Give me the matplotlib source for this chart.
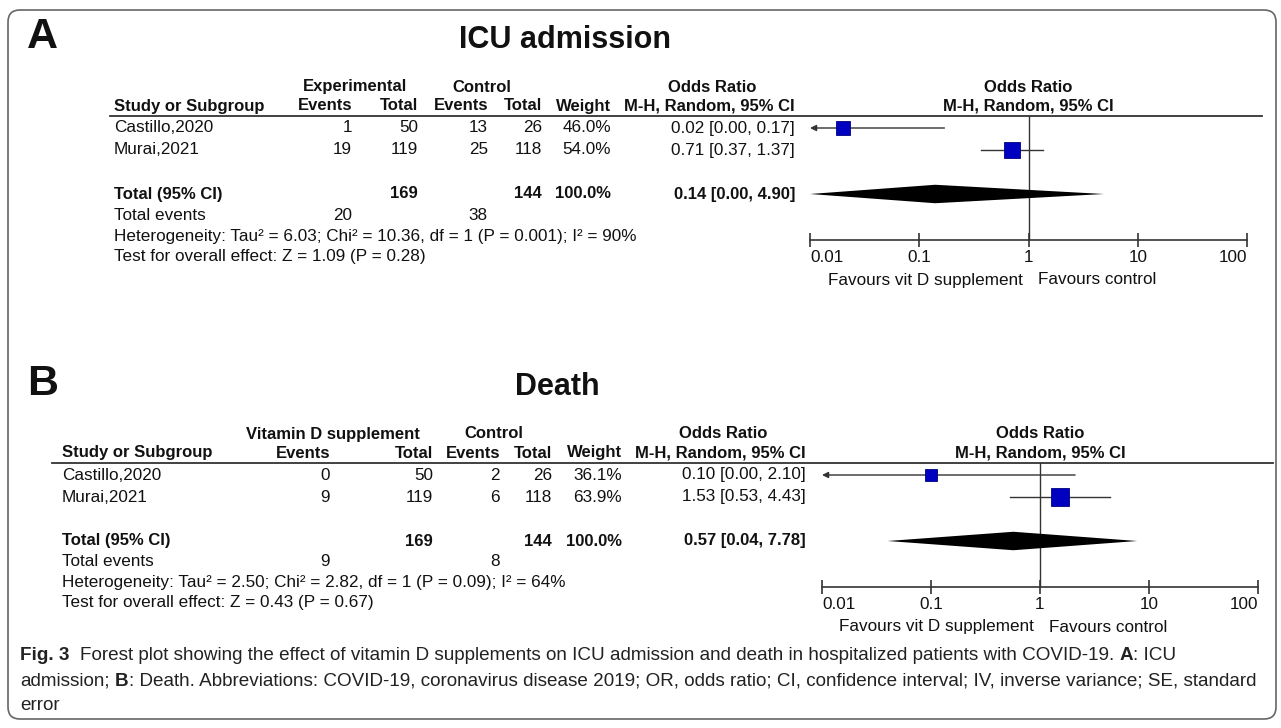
import numpy as np
import matplotlib
matplotlib.use("Agg")
import matplotlib.pyplot as plt
from matplotlib.patches import FancyBboxPatch

# ---- data ----
studies = ["Castillo,2020", "Murai,2021"]

# A: ICU admission
icu_exp_events = [1, 19]
icu_exp_total = [50, 119]
icu_ctl_events = [13, 25]
icu_ctl_total = [26, 118]
icu_weight = [46.0, 54.0]
icu_or = [0.02, 0.71]
icu_lo = [0.00, 0.37]
icu_hi = [0.17, 1.37]
icu_pooled = [0.14, 0.00, 4.90]
icu_n = [169, 144]
icu_events = [20, 38]
icu_het = "Heterogeneity: Tau\u00b2 = 6.03; Chi\u00b2 = 10.36, df = 1 (P = 0.001); I\u00b2 = 90%"
icu_test = "Test for overall effect: Z = 1.09 (P = 0.28)"

# B: death
death_exp_events = [0, 9]
death_exp_total = [50, 119]
death_ctl_events = [2, 6]
death_ctl_total = [26, 118]
death_weight = [36.1, 63.9]
death_or = [0.10, 1.53]
death_lo = [0.00, 0.53]
death_hi = [2.10, 4.43]
death_pooled = [0.57, 0.04, 7.78]
death_n = [169, 144]
death_events = [9, 8]
death_het = "Heterogeneity: Tau\u00b2 = 2.50; Chi\u00b2 = 2.82, df = 1 (P = 0.09); I\u00b2 = 64%"
death_test = "Test for overall effect: Z = 0.43 (P = 0.67)"

tick_vals = [0.01, 0.1, 1, 10, 100]
tick_labels = ["0.01", "0.1", "1", "10", "100"]

caption = [
    [("Fig. 3", True, 0),
     ("Forest plot showing the effect of vitamin D supplements on ICU admission "
      "and death in hospitalized patients with COVID-19.", False, 2),
     ("A", True, 1), (": ICU", False, 0)],
    [("admission;", False, 0), ("B", True, 1),
     (": Death. Abbreviations: COVID-19, coronavirus disease 2019; OR, odds ratio; "
      "CI, confidence interval; IV, inverse variance; SE, standard", False, 0)],
    [("error", False, 0)],
]

W, H = 1281, 728
INK = "#111111"
LINE = "#333333"
BLUE = "#0000c0"
FS = 12.3
HFS = 12.0  # bold header text

plt.rcParams["font.family"] = ["Liberation Sans", "DejaVu Sans"]

fig = plt.figure(figsize=(W / 100, H / 100), dpi=100)
renderer = fig.canvas.get_renderer()
# background axes in pixel units, y going down
bg = fig.add_axes([0, 0, 1, 1])
bg.set_xlim(0, W)
bg.set_ylim(H, 0)
bg.axis("off")


def txt(x, y, s, ha="left", bold=False, size=FS):
    return bg.text(x, y, s, ha=ha, va="center", fontsize=size,
                   fontweight="bold" if bold else "normal", color=INK)


def hdr(x, y, s, ha="left"):
    return txt(x, y, s, ha=ha, bold=True, size=HFS)


def fmt_ci(e, l, h):
    return "%.2f [%.2f, %.2f]" % (e, l, h)


def draw_panel(y0, letter, title, title_x, grp1, lay, ev1, tot1, ev2, tot2, wts,
               est, lo, hi, pooled, n, tev, het, test):
    row0, step = 128 + y0, 22
    top, bottom = 116 + y0, 240 + y0

    txt(27, 37 + y0, letter, bold=True, size=31)
    txt(title_x, 40 + y0, title, ha="center", bold=True, size=22)

    # header
    hdr(lay["grp1"], 87 + y0, grp1, ha="center")
    hdr(lay["grp2"], 87 + y0, "Control", ha="center")
    hdr(lay["orh"], 87 + y0, "Odds Ratio", ha="center")
    hdr(lay["study"], 106 + y0, "Study or Subgroup")
    hdr(lay["ev1"], 106 + y0, "Events", ha="right")
    hdr(lay["tot1"], 106 + y0, "Total", ha="right")
    hdr(lay["ev2"], 106 + y0, "Events", ha="right")
    hdr(lay["tot2"], 106 + y0, "Total", ha="right")
    hdr(lay["wt"], 106 + y0, "Weight", ha="right")
    hdr(lay["orr"], 106 + y0, "M-H, Random, 95% CI", ha="right")
    fc = (lay["f0"] + lay["f1"]) / 2
    hdr(fc, 87 + y0, "Odds Ratio", ha="center")
    hdr(fc, 106 + y0, "M-H, Random, 95% CI", ha="center")
    bg.plot([lay["line0"], lay["line1"]], [top, top], color=LINE, lw=1.3)

    # study rows
    for i, s in enumerate(studies):
        y = row0 + step * i
        txt(lay["study"], y, s)
        txt(lay["ev1"], y, str(ev1[i]), ha="right")
        txt(lay["tot1"], y, str(tot1[i]), ha="right")
        txt(lay["ev2"], y, str(ev2[i]), ha="right")
        txt(lay["tot2"], y, str(tot2[i]), ha="right")
        txt(lay["wt"], y, "%.1f%%" % wts[i], ha="right")
        txt(lay["orr"], y, fmt_ci(est[i], lo[i], hi[i]), ha="right")

    # total rows
    yt = row0 + step * 3
    hdr(lay["study"], yt, "Total (95% CI)")
    hdr(lay["tot1"], yt, str(n[0]), ha="right")
    hdr(lay["tot2"], yt, str(n[1]), ha="right")
    hdr(lay["wt"], yt, "100.0%", ha="right")
    hdr(lay["orr"], yt, fmt_ci(*pooled), ha="right")
    txt(lay["study"], 215 + y0, "Total events")
    txt(lay["ev1"], 215 + y0, str(tev[0]), ha="right")
    txt(lay["ev2"], 215 + y0, str(tev[1]), ha="right")
    txt(lay["study"], 236 + y0, het)
    txt(lay["study"], 256 + y0, test)

    # forest plot, y in row units
    ax = fig.add_axes([lay["f0"] / W, 1 - bottom / H,
                       (lay["f1"] - lay["f0"]) / W, (bottom - top) / H])
    ax.set_facecolor("none")
    ax.set_xscale("log")
    xmin, xmax = tick_vals[0], tick_vals[-1]
    ax.set_xlim(xmin, xmax)
    ax.set_ylim((bottom - row0) / step, (top - row0) / step)
    ax.axvline(1, color=LINE, lw=1)
    for i in range(len(studies)):
        if lo[i] < xmin:
            ax.annotate("", xy=(xmin, i), xytext=(hi[i], i),
                        arrowprops=dict(arrowstyle="-|>", color=LINE, lw=1,
                                        mutation_scale=9, shrinkA=0, shrinkB=0))
        else:
            ax.plot([lo[i], hi[i]], [i, i], color=LINE, lw=1)
        # square side grows with the study weight
        side = 2.8 + 0.24 * wts[i]
        ax.plot(est[i], i, marker="s", ms=side * 0.72, color=BLUE,
                mec="#000080", mew=0.6, zorder=3)
    pe, pl, ph = pooled
    pl = max(pl, xmin)
    ax.fill([pl, pe, ph, pe], [3, 3 - 0.42, 3, 3 + 0.42], color="black", lw=0, zorder=3)

    for sp in ["top", "left", "right"]:
        ax.spines[sp].set_visible(False)
    ax.spines["bottom"].set_color(LINE)
    ax.spines["bottom"].set_linewidth(1.2)
    ax.set_xticks(tick_vals)
    ax.set_xticklabels(tick_labels)
    ax.minorticks_off()
    ax.set_yticks([])
    ax.tick_params(axis="x", direction="inout", length=10, width=1.2,
                   color=LINE, labelcolor=INK, labelsize=FS, pad=2)
    # end labels stay inside the axis like RevMan does
    labels = ax.get_xticklabels()
    labels[0].set_ha("left")
    labels[-1].set_ha("right")

    txt(fc - 6, 280 + y0, "Favours vit D supplement", ha="right")
    txt(fc + 9, 280 + y0, "Favours control")


lay_a = dict(study=114, ev1=352, tot1=418, ev2=488, tot2=542, wt=611, orr=795,
             grp1=355, grp2=482, orh=712, line0=110, line1=1262, f0=810, f1=1247)
lay_b = dict(study=62, ev1=330, tot1=433, ev2=500, tot2=552, wt=622, orr=806,
             grp1=333, grp2=494, orh=723, line0=52, line1=1273, f0=822, f1=1258)

draw_panel(0, "A", "ICU admission", 565, "Experimental", lay_a,
           icu_exp_events, icu_exp_total, icu_ctl_events, icu_ctl_total, icu_weight,
           icu_or, icu_lo, icu_hi, icu_pooled, icu_n, icu_events, icu_het, icu_test)
draw_panel(347, "B", "Death", 557, "Vitamin D supplement", lay_b,
           death_exp_events, death_exp_total, death_ctl_events, death_ctl_total, death_weight,
           death_or, death_lo, death_hi, death_pooled, death_n, death_events, death_het, death_test)

# rounded frame
bg.add_patch(FancyBboxPatch((8, 10), 1268, 709, boxstyle="round,pad=0,rounding_size=12",
                            fill=False, ec="#666666", lw=1.2))

# caption: size chosen so the second line runs to the right edge like the original
space_em = 0.28


def caption_line(x, y, parts, size, draw=True):
    start = x
    sp = space_em * size * 100 / 72
    for s, bold, gap in parts:
        x += gap * sp
        t = bg.text(x, y, s, va="center", fontsize=size, color="#222222",
                    fontweight="bold" if bold else "normal")
        x += t.get_window_extent(renderer=renderer).width
        if not draw:
            t.remove()
    return x - start


base = 12.0
cap_size = base * (1262 - 20) / caption_line(20, 0, caption[1], base, draw=False)
for k, parts in enumerate(caption):
    caption_line(20, 656 + 25 * k, parts, cap_size)

fig.savefig("out.png", dpi=100)
